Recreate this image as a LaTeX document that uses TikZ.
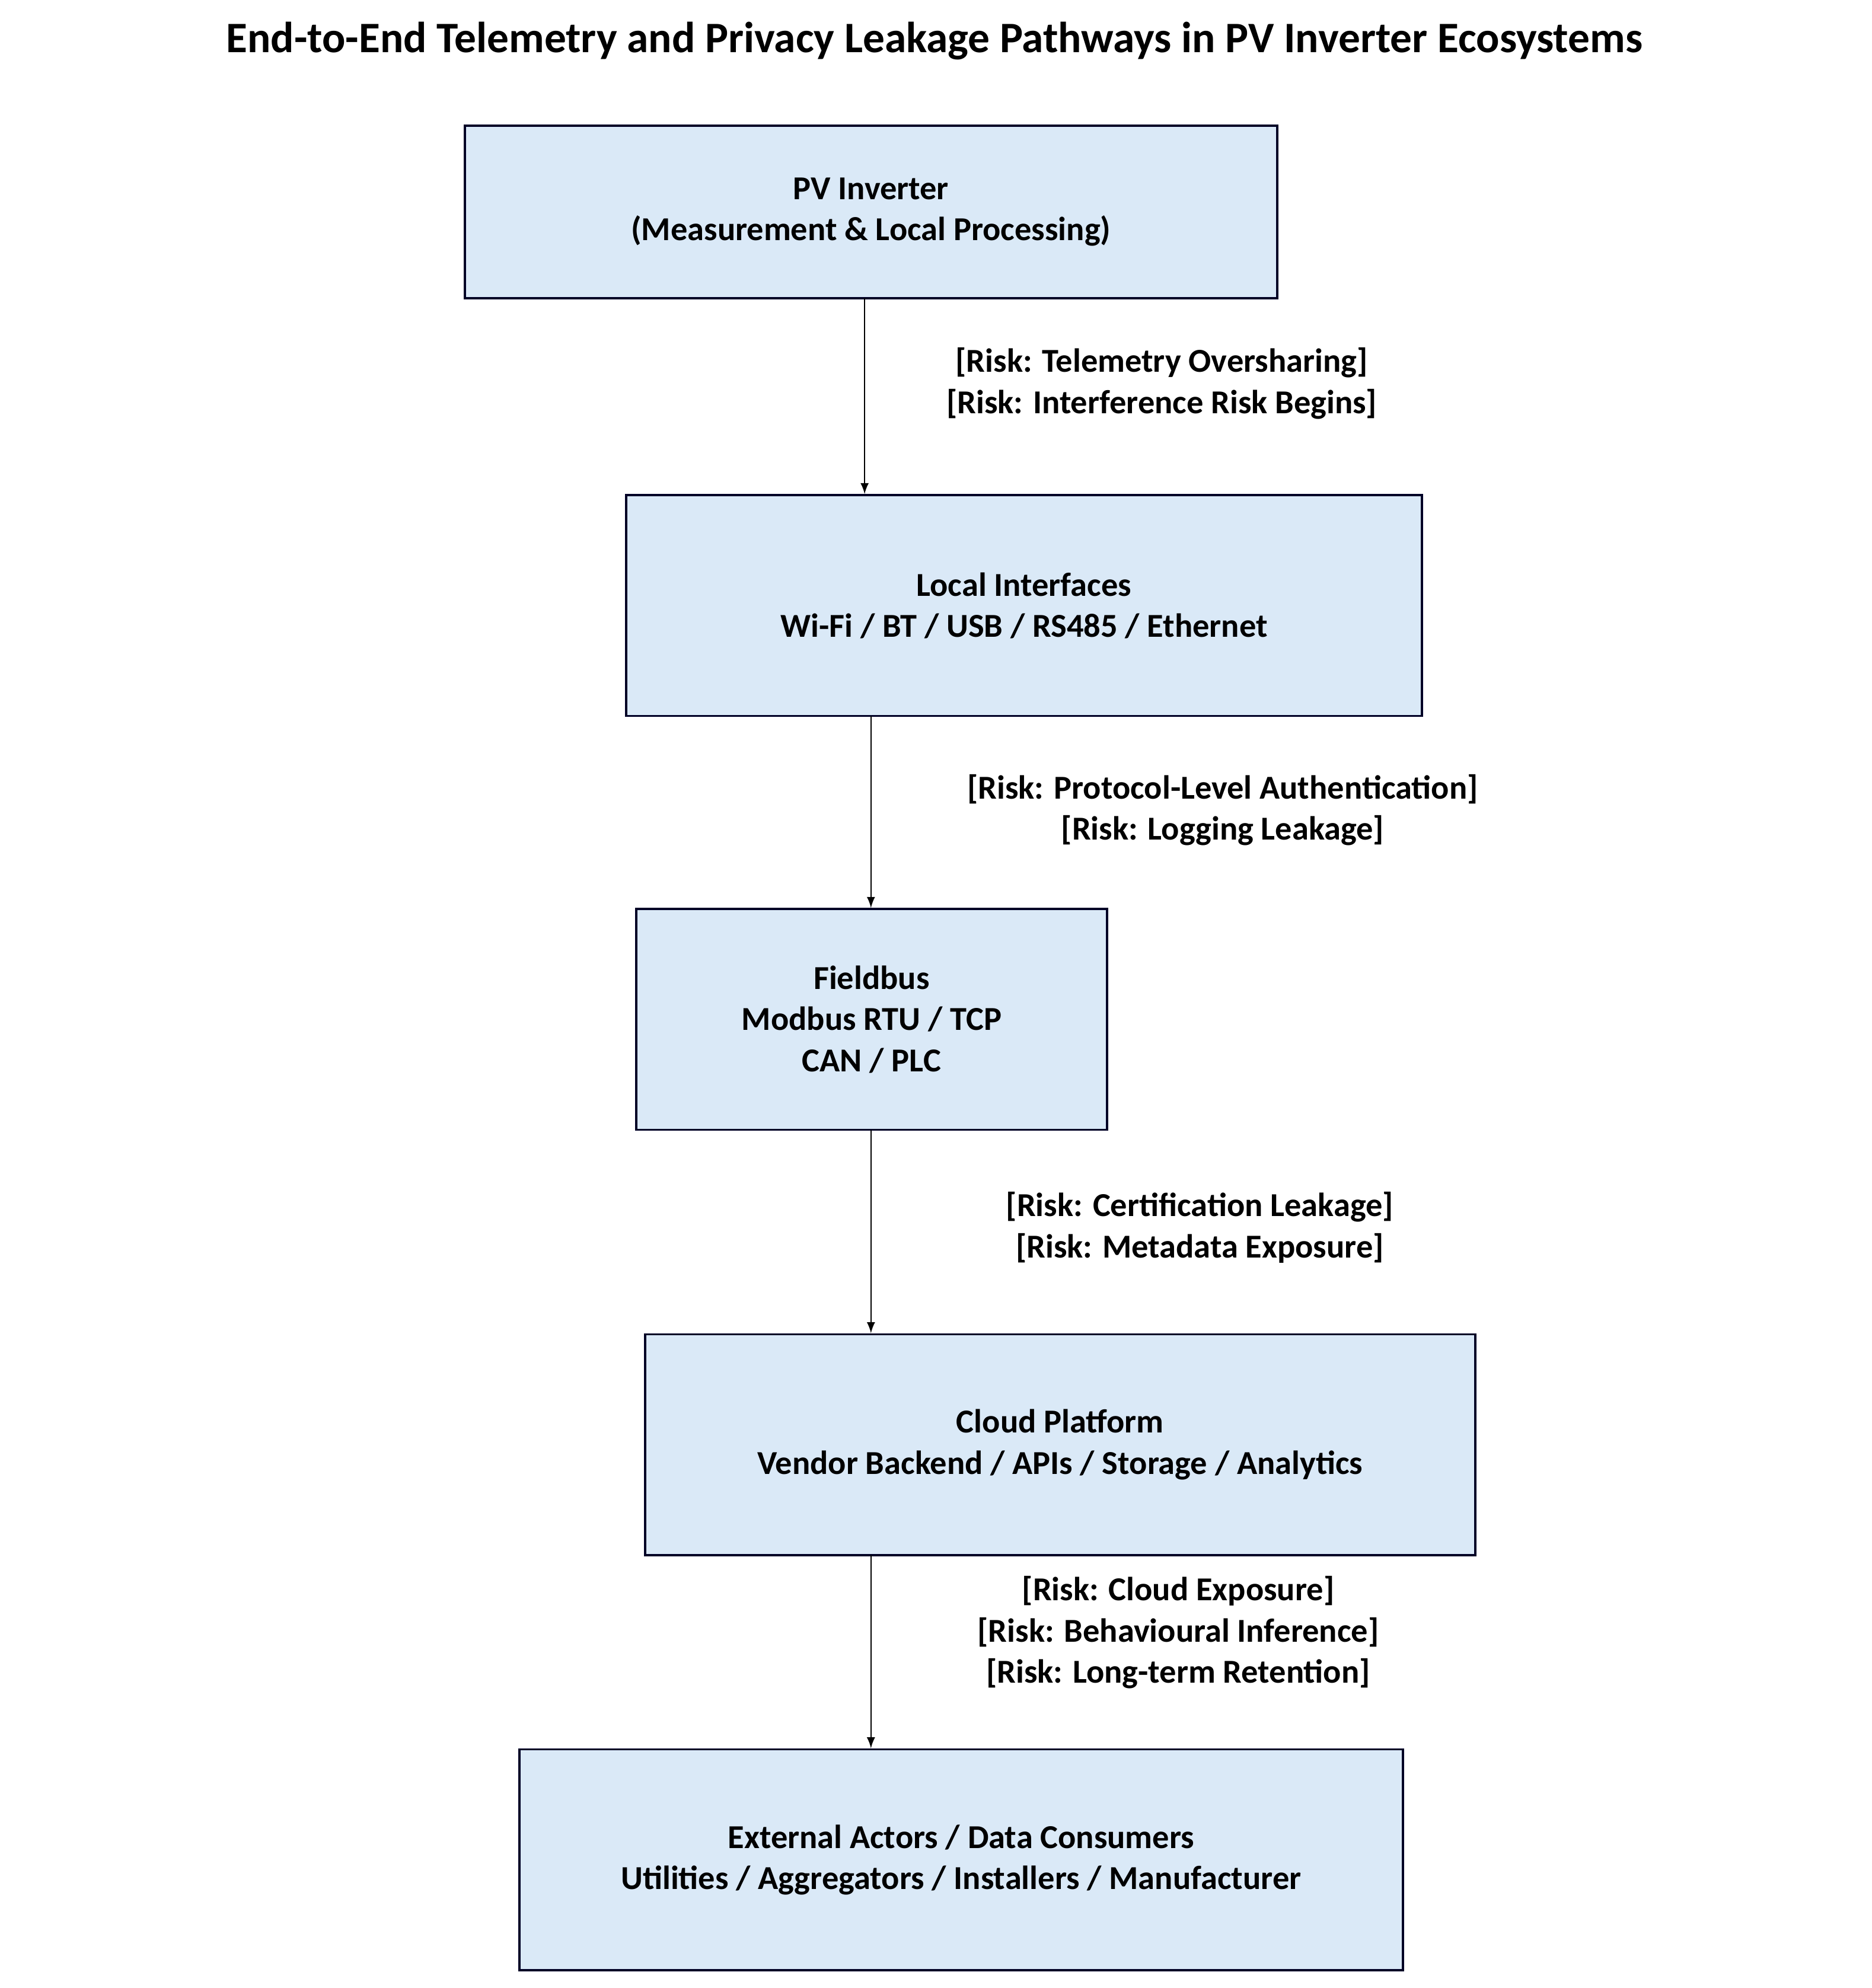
\documentclass[tikz,border=0pt]{standalone}
\usepackage{fontspec}
\setmainfont{Carlito}
\begin{document}
\begin{tikzpicture}[x=0.02cm,y=-0.02cm,
 box/.style={draw=black!85!blue,line width=1pt,fill={rgb,255:red,218;green,233;blue,247},align=center,font=\bfseries\fontsize{15}{18.5}\selectfont,inner sep=0pt},
 lab/.style={align=center,font=\bfseries\fontsize{15}{18.5}\selectfont},
 arr/.style={->,>=latex,line width=0.7pt}]
\useasboundingbox (0,0) rectangle (1474,1566);
\node[font=\bfseries\fontsize{19.5}{22}\selectfont] (title) at (736,32) {End-to-End Telemetry and Privacy Leakage Pathways in PV Inverter Ecosystems};
\node[box,minimum width=12.8cm,minimum height=2.72cm] (b1) at (686,167) {PV Inverter\\(Measurement \& Local Processing)};
\node[box,minimum width=12.54cm,minimum height=3.48cm] (b2) at (806.5,477) {Local Interfaces\\Wi-Fi / BT / USB / RS485 / Ethernet};
\node[box,minimum width=7.42cm,minimum height=3.48cm] (b3) at (686.5,803) {Fieldbus\\Modbus RTU / TCP\\CAN / PLC};
\node[box,minimum width=13.08cm,minimum height=3.48cm] (b4) at (835,1138) {Cloud Platform\\Vendor Backend / APIs / Storage / Analytics};
\node[box,minimum width=13.92cm,minimum height=3.48cm] (b5) at (757,1465) {External Actors / Data Consumers\\Utilities / Aggregators / Installers / Manufacturer};
\coordinate (a1) at (681,235);
\coordinate (a2) at (686,564);
\coordinate (a3) at (686,890);
\coordinate (a4) at (686,1225);
\draw[arr] (a1) -- (a1 |- b2.north);
\draw[arr] (a2) -- (a2 |- b3.north);
\draw[arr] (a3) -- (a3 |- b4.north);
\draw[arr] (a4) -- (a4 |- b5.north);
\node[lab] (l1) at (915,302) {[Risk: Telemetry Oversharing]\\[0pt][Risk: Interference Risk Begins]};
\node[lab] (l2) at (963,638) {[Risk: Protocol-Level Authentication]\\[0pt][Risk: Logging Leakage]};
\node[lab] (l3) at (945,967) {[Risk: Certification Leakage]\\[0pt][Risk: Metadata Exposure]};
\node[lab] (l4) at (928,1286) {[Risk: Cloud Exposure]\\[0pt][Risk: Behavioural Inference]\\[0pt][Risk: Long-term Retention]};
\end{tikzpicture}
\end{document}
